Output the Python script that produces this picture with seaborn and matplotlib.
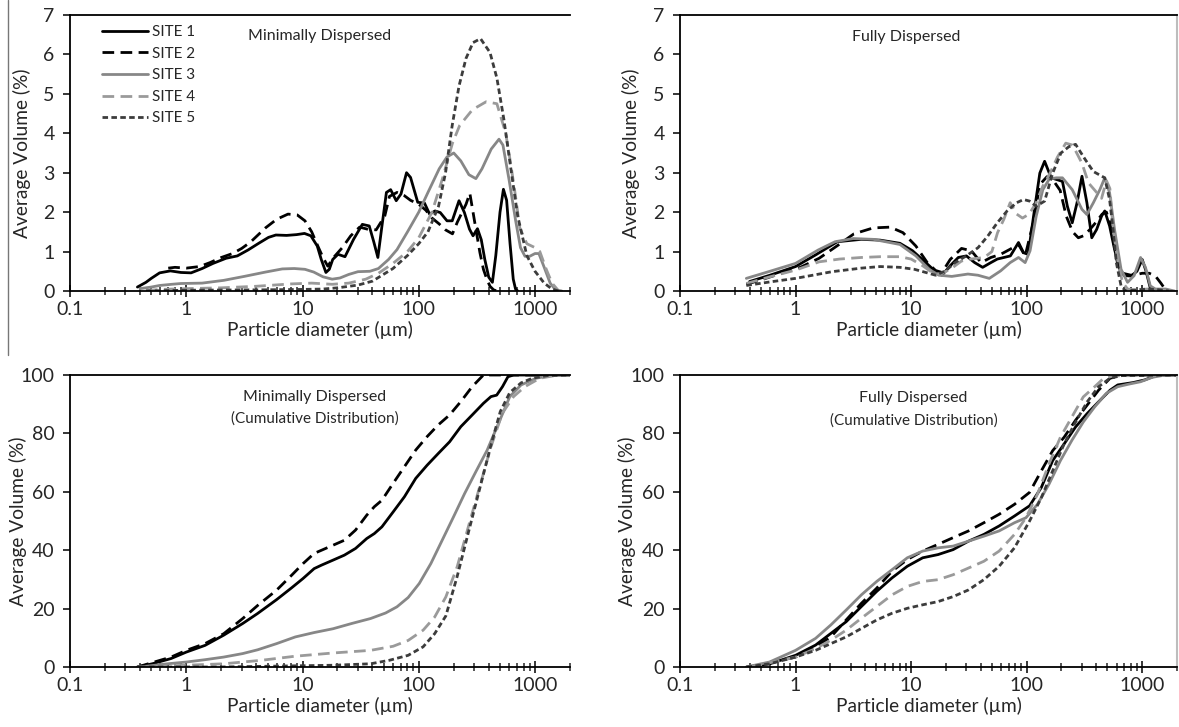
import numpy as np
import pandas as pd
import seaborn as sns
import matplotlib
matplotlib.use('Agg')
import matplotlib.pyplot as plt
from matplotlib.lines import Line2D
from matplotlib.ticker import LogLocator, NullFormatter

# particle diameter (um) / volume (%)
# mf = minimally dispersed, ff = fully dispersed (frequency)
# mc / fc = same, cumulative distribution

mf1_d = [0.38, 0.45, 0.5, 0.59, 0.73, 0.9, 1.1, 1.37, 1.7, 2.2, 2.75, 3.4, 4.2, 5.1, 5.9, 7.3, 8.9, 10.4, 11.8,
         13.4, 14.5, 15.9, 17.0, 18.2, 20.2, 23.2, 27.5, 32.7, 37.5, 41, 44.5, 48, 52.7, 57.3, 64, 70.3, 78.5,
         85, 98, 112, 124, 138, 153, 175, 194, 222, 247, 273, 293, 320, 345, 370, 400, 430, 460, 500, 535, 570,
         610, 650, 680, 710]
mf1_v = [0.1, 0.22, 0.32, 0.46, 0.51, 0.47, 0.46, 0.57, 0.7, 0.83, 0.89, 1.04, 1.21, 1.36, 1.42, 1.41, 1.43, 1.46,
         1.4, 1.14, 0.8, 0.47, 0.55, 0.8, 0.93, 0.87, 1.31, 1.69, 1.65, 1.25, 0.85, 1.6, 2.5, 2.57, 2.29, 2.46, 3.0,
         2.88, 2.25, 2.23, 1.95, 2.03, 1.99, 1.78, 1.78, 2.29, 1.99, 1.57, 1.4, 1.58, 1.3, 0.8, 0.35, 0.22, 0.9,
         2.0, 2.58, 2.3, 1.2, 0.3, 0.05, 0.0]

mf2_d = [0.7, 0.8, 1.0, 1.3, 1.6, 2.0, 2.5, 3.0, 3.6, 4.8, 6.0, 7.5, 9.0, 10.5, 12, 13.5, 15, 16.5, 18.5, 22, 26,
         31, 36, 43, 51, 56, 65, 75, 85, 100, 115, 130, 150, 170, 195, 215, 255, 275, 293, 315, 336, 360, 385,
         410, 440, 470]
mf2_v = [0.58, 0.6, 0.58, 0.62, 0.72, 0.85, 0.95, 1.08, 1.25, 1.6, 1.82, 1.95, 1.93, 1.78, 1.5, 1.15, 0.85, 0.63,
         0.85, 1.1, 1.4, 1.62, 1.57, 1.55, 1.9, 2.4, 2.5, 2.42, 2.3, 2.2, 2.05, 1.85, 1.7, 1.55, 1.45, 1.75, 2.2,
         2.48, 2.0, 1.45, 0.97, 0.55, 0.3, 0.12, 0.03, 0.0]

mf3_d = [0.4, 0.5, 0.59, 0.75, 0.9, 1.37, 2.1, 3.15, 4.8, 6.7, 8.5, 10.5, 12.5, 15, 18, 21, 25, 30, 38, 45, 55, 65,
         80, 100, 120, 150, 175, 200, 230, 270, 310, 350, 420, 490, 530, 600, 680, 750, 820, 900, 1000, 1080,
         1200, 1350, 1500, 1700]
mf3_v = [0.06, 0.1, 0.14, 0.17, 0.19, 0.2, 0.27, 0.37, 0.48, 0.56, 0.57, 0.55, 0.48, 0.36, 0.3, 0.33, 0.42, 0.49,
         0.5, 0.57, 0.8, 1.05, 1.5, 2.0, 2.5, 3.1, 3.4, 3.5, 3.3, 2.95, 2.85, 3.1, 3.6, 3.85, 3.7, 2.8, 1.8, 1.1,
         0.88, 0.88, 0.95, 0.95, 0.6, 0.2, 0.03, 0.0]

mf4_d = [0.45, 0.6, 1.0, 2.0, 4.0, 8.0, 12, 18, 25, 35, 45, 60, 80, 100, 130, 160, 195, 225, 290, 380, 470, 560,
         620, 680, 740, 850, 1000, 1100, 1250, 1400, 1600]
mf4_v = [0.01, 0.04, 0.06, 0.08, 0.12, 0.18, 0.2, 0.17, 0.2, 0.3, 0.45, 0.7, 1.0, 1.35, 2.0, 2.85, 3.75, 4.2, 4.6,
         4.8, 4.75, 4.0, 3.2, 2.4, 1.6, 1.2, 1.1, 1.0, 0.55, 0.2, 0.0]

mf5_d = [0.45, 1, 5, 10, 15, 20, 30, 40, 60, 80, 100, 120, 148, 170, 194, 222, 255, 293, 340, 410, 470, 540, 620,
         710, 850, 1000, 1200, 1400, 1600]
mf5_v = [0.0, 0.02, 0.03, 0.04, 0.05, 0.08, 0.15, 0.25, 0.57, 0.9, 1.2, 1.5, 2.15, 3.0, 4.2, 5.2, 5.9, 6.3, 6.4,
         6.05, 5.4, 4.35, 3.1, 1.9, 0.9, 0.5, 0.2, 0.05, 0.0]

ff1_d = [0.4, 0.6, 1.0, 1.5, 2.3, 3.7, 5.4, 8.0, 10.3, 13.4, 16.3, 18.5, 21.8, 25.6, 30.1, 35.5, 41.6, 49, 55.7,
         63.5, 72.3, 85, 94, 103, 117, 130, 143, 163, 185, 204, 225, 248, 273, 301, 332, 366, 403, 445, 474, 522,
         576, 636, 700, 800, 900, 1000, 1080, 1180, 1250]
ff1_v = [0.24, 0.4, 0.62, 0.92, 1.25, 1.31, 1.29, 1.21, 1.02, 0.72, 0.49, 0.4, 0.64, 0.85, 0.89, 0.72, 0.6, 0.72,
         0.81, 0.85, 0.89, 1.23, 0.97, 0.93, 2.07, 2.99, 3.29, 2.87, 2.82, 2.78, 2.15, 1.73, 2.24, 2.91, 2.24,
         1.35, 1.56, 1.9, 2.03, 1.65, 1.06, 0.55, 0.39, 0.38, 0.5, 0.8, 0.5, 0.05, 0.0]

ff2_d = [0.375, 0.5, 0.7, 1.1, 1.6, 2.3, 3.2, 4.7, 6.6, 8.5, 11, 13.8, 16.3, 18.5, 21.8, 27.3, 33.2, 40.4, 49,
         59.5, 72, 85, 97, 114, 130, 150, 175, 195, 220, 250, 280, 310, 350, 400, 450, 490, 530, 570, 620, 680,
         800, 900, 1000, 1150, 1300, 1450, 1600]
ff2_v = [0.17, 0.28, 0.42, 0.6, 0.83, 1.15, 1.45, 1.6, 1.62, 1.48, 1.14, 0.72, 0.52, 0.47, 0.8, 1.08, 1.02, 0.72,
         0.85, 0.93, 1.06, 1.18, 0.89, 1.73, 2.7, 2.9, 2.75, 2.55, 1.9, 1.5, 1.35, 1.4, 1.55, 1.75, 1.95, 2.0,
         1.7, 1.2, 0.6, 0.45, 0.4, 0.42, 0.45, 0.45, 0.38, 0.2, 0.02]

ff3_d = [0.375, 0.6, 1.0, 1.57, 2.2, 3.16, 4.7, 8, 11, 14.3, 17.4, 22.5, 31, 37.9, 47.5, 59.5, 72, 85, 97, 107,
         121, 138, 157, 180, 204, 248, 301, 332, 378, 430, 474, 522, 576, 656, 747, 851, 968, 1067, 1175, 1300,
         1600, 1900]
ff3_v = [0.32, 0.5, 0.7, 1.04, 1.25, 1.33, 1.31, 1.18, 0.89, 0.55, 0.4, 0.37, 0.43, 0.4, 0.32, 0.51, 0.72, 0.85,
         0.72, 1.02, 1.9, 2.57, 2.84, 2.87, 2.87, 2.57, 2.07, 1.94, 2.24, 2.57, 2.87, 2.49, 1.56, 0.55, 0.22,
         0.39, 0.85, 0.6, 0.13, 0.05, 0.05, 0.0]

ff4_d = [0.375, 0.6, 1.0, 1.6, 2.4, 3.7, 5.4, 8.0, 10, 12.6, 15.2, 17.9, 21.8, 27.3, 33, 43, 50, 56, 63.5, 72, 82,
         92, 105, 121, 138, 160, 185, 218, 250, 301, 343, 390, 445, 490, 525, 560, 618, 676, 747, 900, 1100, 1400,
         1700]
ff4_v = [0.19, 0.36, 0.53, 0.74, 0.81, 0.85, 0.87, 0.87, 0.81, 0.64, 0.47, 0.43, 0.55, 0.76, 0.81, 0.85, 1.0,
         1.48, 1.82, 2.24, 1.95, 1.85, 1.95, 2.24, 2.66, 3.0, 3.4, 3.75, 3.7, 3.24, 2.74, 2.55, 2.35, 2.8, 2.6,
         1.56, 0.72, 0.22, 0.05, 0.02, 0.05, 0.03, 0.0]

ff5_d = [0.375, 0.6, 1.0, 2.07, 3.7, 5.4, 8, 10.7, 13.4, 16.3, 19.8, 24, 30, 38, 46, 55.7, 67.7, 82, 94, 106, 121,
         143, 168, 198, 232, 265, 322, 378, 474, 522, 560, 597, 656, 720, 900, 1100, 1400, 1700]
ff5_v = [0.14, 0.23, 0.32, 0.49, 0.58, 0.62, 0.6, 0.55, 0.47, 0.4, 0.51, 0.72, 0.89, 1.1, 1.39, 1.73, 2.03, 2.24,
         2.32, 2.28, 2.15, 2.28, 2.99, 3.5, 3.66, 3.72, 3.33, 3.03, 2.87, 2.32, 1.56, 0.72, 0.13, 0.0, 0.03, 0.05,
         0.03, 0.0]

mc1_d = [0.38, 0.51, 0.74, 1.0, 1.45, 2.1, 3.06, 4.1, 6.0, 8.05, 10.1, 12.6, 14.6, 18.3, 22.9, 28.6, 35.7, 41.5,
         48.2, 60.2, 75.3, 94.2, 118, 147, 184, 230, 288, 360, 418, 468, 525, 585, 654, 2000]
mc1_v = [0, 1.1, 2.9, 5.1, 7.4, 10.9, 14.9, 18.3, 23.1, 27.1, 30.3, 33.7, 34.9, 36.6, 38.3, 40.6, 44, 45.7, 48,
         53.1, 58.3, 64.6, 69.1, 73.1, 77.1, 82.3, 86.3, 90.3, 92.6, 93.1, 96, 99.4, 100, 100]

mc2_d = [0.38, 0.74, 1.0, 1.45, 2.1, 3.06, 4.12, 5.98, 8.05, 10.1, 12.6, 14.6, 18.3, 22.9, 28.6, 35.7, 41.5, 48.2,
         60.2, 75.3, 94.2, 118, 147, 184, 230, 288, 360, 2000]
mc2_v = [0, 3.4, 5.7, 8, 11.4, 16.6, 21.1, 26.3, 31.4, 35.4, 38.9, 40, 41.7, 43.4, 46.9, 52, 54.9, 57.1, 62.9,
         68.6, 74.3, 78.9, 82.9, 86.3, 90.9, 96, 100, 100]

mc3_d = [0.38, 0.44, 0.69, 1.0, 1.45, 2.1, 3.06, 4.12, 5.98, 8.68, 12.6, 18.3, 26.5, 38.5, 51.9, 64.9, 81.1, 101,
         127, 159, 199, 248, 310, 388, 485, 607, 759, 1023, 1377, 2000]
mc3_v = [0, 0.2, 1.1, 1.7, 2.5, 3.4, 4.6, 5.9, 8, 10.3, 11.8, 13.1, 14.9, 16.6, 18.5, 20.6, 23.8, 28.6, 35.4,
         43.4, 51.4, 59.4, 66.9, 74.3, 83.4, 92.6, 96.6, 98.9, 99.8, 100]

mc4_d = [0.55, 1.0, 2.1, 4.44, 8.68, 18.3, 38.5, 60.2, 81.1, 109, 137, 171, 214, 267, 334, 418, 523, 654, 818,
         1101, 1482, 2000]
mc4_v = [0.2, 0.6, 1.1, 2.3, 3.7, 4.8, 5.7, 7.1, 9.1, 12.6, 17.1, 24, 34.3, 48, 61.7, 75.4, 86.9, 92.6, 96, 98.9,
         99.8, 100]

mc5_d = [0.4, 1.95, 18.3, 38.5, 55.9, 81.1, 109, 137, 171, 214, 267, 334, 418, 503, 607, 759, 950, 1280, 2000]
mc5_v = [0, 0, 0.6, 1.1, 2.3, 4.0, 6.9, 11.4, 17.5, 31, 46, 61, 76, 87.5, 94, 97.3, 98.9, 99.8, 100]

fc1_d = [0.377, 0.6, 1.0, 1.49, 2.02, 2.74, 3.71, 5.04, 6.83, 9.27, 12.6, 17.1, 23.1, 31.4, 42.6, 57.8, 78.4, 106,
         134, 168, 211, 265, 334, 419, 527, 614, 833, 1047, 1316, 2000]
fc1_v = [0, 1.1, 4, 7.5, 11.5, 15.5, 20.7, 25.9, 30.5, 34.5, 37.4, 38.5, 40.2, 43.1, 45.4, 48.3, 51.7, 55.2, 61.5,
         70.7, 76.4, 82.2, 86.8, 90.8, 94.8, 96.6, 97.4, 98.3, 99.8, 100]

fc2_d = [0.407, 1.0, 1.49, 2.02, 2.74, 3.71, 5.04, 6.83, 9.27, 12.6, 17.1, 23.1, 31.4, 42.6, 57.8, 78.4, 106, 134,
         168, 211, 265, 334, 419, 527, 662, 2000]
fc2_v = [0, 3.4, 6.9, 10.3, 16.1, 21.8, 27, 32.8, 36.8, 39.7, 42, 44.3, 46.6, 49.4, 52.3, 55.7, 59.8, 67.2, 74.1,
         78.7, 84.5, 89.7, 94.8, 98.9, 99.8, 100]

fc3_d = [0.375, 0.595, 1.0, 1.49, 2.02, 2.74, 3.71, 5.04, 6.83, 9.27, 12.6, 17.1, 23.1, 31.4, 42.6, 57.8, 78.4,
         98.5, 124, 156, 196, 246, 309, 388, 489, 614, 771, 970, 1219, 1532, 2000]
fc3_v = [0, 1.7, 5.7, 9.8, 14.4, 19.5, 24.7, 29.3, 33.3, 37.4, 39.7, 40.8, 41.4, 43.1, 44.8, 46.6, 49.4, 51.1,
         55.7, 62.6, 70.7, 77.6, 83.9, 89.1, 93.7, 96, 96.9, 97.7, 99.2, 99.9, 100]

fc4_d = [0.407, 1.0, 1.49, 2.02, 2.74, 3.71, 5.04, 6.83, 9.27, 12.6, 17.1, 23.1, 31.4, 42.6, 57.8, 78.4, 98.5, 124,
         156, 196, 246, 309, 388, 453, 560, 2000]
fc4_v = [0, 3.4, 6.3, 9.2, 12.6, 16.7, 20.7, 24.7, 27.6, 29.3, 29.9, 31.6, 33.9, 36.2, 39.7, 45.4, 51.1, 59.2,
         69.5, 78.7, 85.6, 92.5, 96, 98.5, 99.7, 100]

fc5_d = [0.377, 0.595, 1.0, 1.49, 2.02, 2.74, 3.71, 5.04, 6.83, 9.27, 12.6, 17.1, 23.1, 31.4, 42.6, 57.8, 78.4, 106,
         134, 168, 211, 265, 334, 419, 527, 662, 2000]
fc5_v = [0, 1.1, 3.4, 5.7, 8, 10.3, 13.2, 16.1, 18.4, 20.1, 21.3, 22.4, 24.1, 26.4, 29.9, 34.5, 40.8, 50, 58, 67.2,
         76.4, 83.9, 90.8, 96, 98.9, 99.8, 100]

sites = ['SITE 1', 'SITE 2', 'SITE 3', 'SITE 4', 'SITE 5']
x_ticks = [0.1, 1, 10, 100, 1000]
x_labels = ['0.1', '1', '10', '100', '1000']

palette = {'SITE 1': '#000000', 'SITE 2': '#000000', 'SITE 3': '#878787',
           'SITE 4': '#9a9a9a', 'SITE 5': '#3c3c3c'}
dashes = {'SITE 1': '', 'SITE 2': (4.2, 2.3), 'SITE 3': '', 'SITE 4': (4.2, 2.3), 'SITE 5': (2.0, 1.2)}

sns.set_style('ticks')
plt.rcParams['font.family'] = ['Lato', 'DejaVu Sans']


def draw_panel(ax, series, ymax, ystep, ylab_x, legend=False):
    '''draws the five sites on one log axis'''
    frames = []
    for name, (d, v) in zip(sites, series):
        frames.append(pd.DataFrame({'d': d, 'v': v, 'site': name}))
    df = pd.concat(frames, ignore_index=True)
    sns.lineplot(data=df, x='d', y='v', hue='site', style='site', palette=palette,
                 dashes=dashes, linewidth=2.0, estimator=None, ax=ax,
                 legend='full' if legend else False)
    ax.set_xscale('log')
    ax.set_xlim(0.1, 2000)
    ax.set_ylim(0, ymax)
    ax.set_yticks(np.arange(0, ymax + 0.1, ystep))
    ax.set_xticks(x_ticks)
    ax.set_xticklabels(x_labels)
    ax.xaxis.set_minor_locator(LogLocator(base=10, subs=np.arange(2, 10) * 1.0, numticks=20))
    ax.xaxis.set_minor_formatter(NullFormatter())
    ax.tick_params(axis='x', which='major', direction='inout', length=9, width=1.3, labelsize=14, pad=3)
    ax.tick_params(axis='x', which='minor', direction='inout', length=6, width=1.1)
    ax.tick_params(axis='y', direction='out', length=5, width=1.3, labelsize=14, pad=6)
    ax.set_xlabel('Particle diameter (µm)', fontsize=13.8, labelpad=2)
    ax.set_ylabel('Average Volume (%)', fontsize=13.8)
    # label anchor is the right edge of the rotated text
    ax.yaxis.set_label_coords(ylab_x, 0.5)
    for s in ['left', 'bottom', 'top']:
        ax.spines[s].set_linewidth(1.3)
        ax.spines[s].set_color('black')
    ax.spines['right'].set_visible(False)


fig = plt.figure(figsize=(11.79, 7.27), dpi=100)
W, H = 1179.0, 727.0

ax_tl = fig.add_axes([70 / W, 1 - 291 / H, 500 / W, 276 / H])
ax_tr = fig.add_axes([680 / W, 1 - 291 / H, 497 / W, 276 / H])
ax_bl = fig.add_axes([70 / W, 1 - 667 / H, 500 / W, 292 / H])
ax_br = fig.add_axes([680 / W, 1 - 667 / H, 497 / W, 292 / H])

draw_panel(ax_tl, [(mf1_d, mf1_v), (mf2_d, mf2_v), (mf3_d, mf3_v), (mf4_d, mf4_v), (mf5_d, mf5_v)],
           7, 1, (31 - 70) / 500, legend=True)
draw_panel(ax_tr, [(ff1_d, ff1_v), (ff2_d, ff2_v), (ff3_d, ff3_v), (ff4_d, ff4_v), (ff5_d, ff5_v)],
           7, 1, (640 - 680) / 497)
draw_panel(ax_bl, [(mc1_d, mc1_v), (mc2_d, mc2_v), (mc3_d, mc3_v), (mc4_d, mc4_v), (mc5_d, mc5_v)],
           100, 20, (27 - 70) / 500)
draw_panel(ax_br, [(fc1_d, fc1_v), (fc2_d, fc2_v), (fc3_d, fc3_v), (fc4_d, fc4_v), (fc5_d, fc5_v)],
           100, 20, (636 - 680) / 497)

for ax in [ax_tr, ax_br]:
    ax.spines['right'].set_visible(True)
    ax.spines['right'].set_color('#bdbdbd')
    ax.spines['right'].set_linewidth(1.5)

leg = ax_tl.legend(loc='upper left', bbox_to_anchor=(0.045, 1.0), frameon=False, fontsize=11,
                   handlelength=3.0, labelspacing=0.5, handletextpad=0.25, borderaxespad=0.25)
for line in leg.get_lines():
    line.set_linewidth(2.0)

ax_tl.text(0.5, 0.925, 'Minimally Dispersed', transform=ax_tl.transAxes, ha='center', va='center',
           fontsize=11.5)
ax_tr.text(0.455, 0.92, 'Fully Dispersed', transform=ax_tr.transAxes, ha='center', va='center', fontsize=11.5)
ax_bl.text(0.49, 0.925, 'Minimally Dispersed', transform=ax_bl.transAxes, ha='center', va='center',
           fontsize=11.5)
ax_bl.text(0.49, 0.85, '(Cumulative Distribution)', transform=ax_bl.transAxes, ha='center', va='center',
           fontsize=11)
ax_br.text(0.47, 0.92, 'Fully Dispersed', transform=ax_br.transAxes, ha='center', va='center', fontsize=11.5)
ax_br.text(0.47, 0.845, '(Cumulative Distribution)', transform=ax_br.transAxes, ha='center', va='center',
           fontsize=11)

# thin border line left of the top-left panel
fig.add_artist(Line2D([8 / W, 8 / W], [1 - 355 / H, 1.0], transform=fig.transFigure, color='#777777', lw=1))

fig.savefig('out.png', dpi=100)
